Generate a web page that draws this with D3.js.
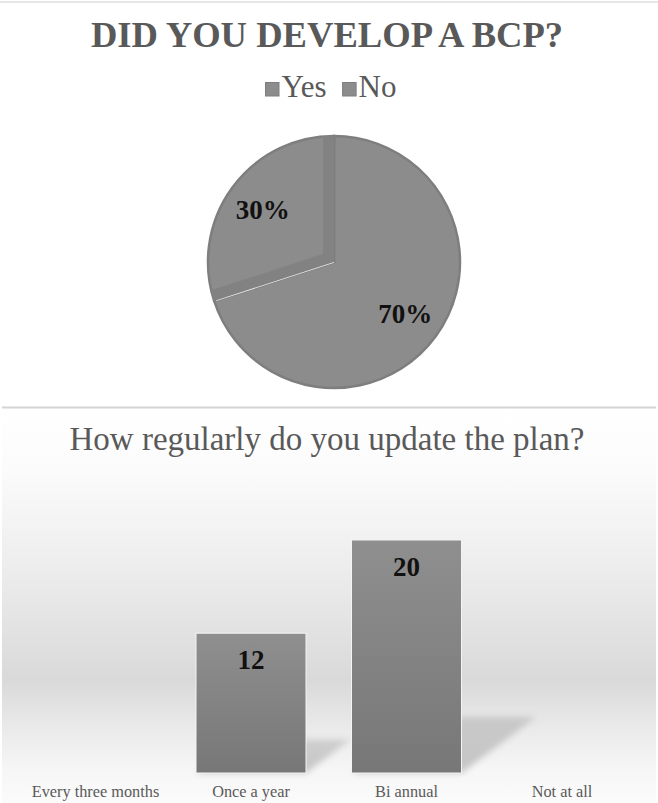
<!DOCTYPE html>
<html>
<head>
<meta charset="utf-8">
<script src="https://cdn.jsdelivr.net/npm/d3@7"></script>
<style>
  html, body { margin: 0; padding: 0; background: #ffffff; }
  svg { display: block; }
  svg text { font-family: "Liberation Serif", "Times New Roman", Times, "DejaVu Serif", serif; }
</style>
</head>
<body>
<svg id="chart" width="658" height="803"></svg>
<script>
// Survey results: business continuity plan (BCP)
const pieTitle = "DID YOU DEVELOP A BCP?";
const pieLabels = ["Yes", "No"];
const pieValues = [70, 30];

const barTitle = "How regularly do you update the plan?";
const barCategories = ["Every three months", "Once a year", "Bi annual", "Not at all"];
const barValues = [0, 12, 20, 0];

const W = 658, H = 803;
const titleGray = "#595959";
const sliceGray = "#8c8c8c";
const edgeGray = "#7e7e7e";

const svg = d3.select("#chart");
const defs = svg.append("defs");

// ---------- Top chart: pie ----------
svg.append("line")
  .attr("x1", 0).attr("x2", W).attr("y1", 2).attr("y2", 2)
  .attr("stroke", "#e6e6e6").attr("stroke-width", 2);

svg.append("text")
  .attr("x", 327).attr("y", 47)
  .attr("text-anchor", "middle")
  .attr("font-weight", "bold")
  .attr("font-size", 36.6).attr("fill", titleGray)
  .text(pieTitle);

// legend, centred as a group
const legend = svg.append("g");
let lx = 0;
pieLabels.forEach((lab, i) => {
  const g = legend.append("g").attr("transform", `translate(${lx},0)`);
  g.append("rect").attr("x", 0).attr("y", -14.5).attr("width", 13.5).attr("height", 13.5)
    .attr("fill", sliceGray).attr("stroke", edgeGray).attr("stroke-width", 1);
  const t = g.append("text").attr("x", 16).attr("y", 0)
    .attr("font-size", 31).attr("fill", titleGray)
    .text(lab);
  lx += 16 + t.node().getComputedTextLength() + 16;
});
const legendW = lx - 16;
legend.attr("transform", `translate(${331 - legendW / 2},97)`);

const cx = 334, cy = 262, R = 126;
const pie = d3.pie().sort(null).value(d => d)(pieValues);
const arc = d3.arc().innerRadius(0).outerRadius(R);
const labelArc = d3.arc().innerRadius(88).outerRadius(88);

const pieG = svg.append("g").attr("transform", `translate(${cx},${cy})`);

pie.forEach((d, i) => {
  const id = "slice-clip-" + i;
  defs.append("clipPath").attr("id", id).append("path").attr("d", arc(d))
    .attr("transform", `translate(${cx},${cy})`);
  pieG.append("path")
    .attr("d", arc(d))
    .attr("fill", sliceGray)
    .attr("stroke", edgeGray).attr("stroke-width", 2.5);
});

// bevelled radial edges of the smaller slice
const small = pie[1];
const edgeLines = [small.startAngle, small.endAngle].map(a => [
  [0, 0], [Math.sin(a) * R, -Math.cos(a) * R]
]);
const bevel = svg.append("g").attr("clip-path", "url(#slice-clip-1)")
  .append("g").attr("transform", `translate(${cx},${cy})`);
edgeLines.forEach(pts => {
  bevel.append("line")
    .attr("x1", pts[0][0]).attr("y1", pts[0][1])
    .attr("x2", pts[1][0]).attr("y2", pts[1][1])
    .attr("stroke", "#828282").attr("stroke-width", 22);
});
// light seam along the lower edge
const a0 = small.startAngle;
pieG.append("line")
  .attr("x1", 0).attr("y1", 0)
  .attr("x2", Math.sin(a0) * (R - 2)).attr("y2", -Math.cos(a0) * (R - 2))
  .attr("stroke", "#ececec").attr("stroke-width", 1.6);

pieG.selectAll("text.pct")
  .data(pie)
  .join("text")
  .attr("class", "pct")
  .attr("transform", d => `translate(${labelArc.centroid(d)})`)
  .attr("text-anchor", "middle").attr("dy", "0.33em")
  .attr("font-weight", "bold")
  .attr("font-size", 27).attr("fill", "#111111")
  .text(d => d3.format(".0%")(d.value / d3.sum(pieValues)));

// ---------- Bottom chart: bars ----------
const bg = defs.append("linearGradient").attr("id", "plotBg")
  .attr("gradientUnits", "userSpaceOnUse")
  .attr("x1", 0).attr("x2", 0).attr("y1", 409).attr("y2", 803);
[[409, "#ffffff"], [470, "#fbfbfb"], [560, "#eeeeee"], [620, "#e4e4e4"],
 [680, "#d9d9d9"], [725, "#e9e9e9"], [770, "#f6f6f6"], [803, "#fbfbfb"]]
  .forEach(([y, c]) => bg.append("stop")
    .attr("offset", ((y - 409) / (803 - 409) * 100) + "%").attr("stop-color", c));

svg.append("rect").attr("x", 2).attr("y", 409).attr("width", W - 4).attr("height", H - 409)
  .attr("fill", "url(#plotBg)");

svg.append("line")
  .attr("x1", 2).attr("x2", W - 2).attr("y1", 407.5).attr("y2", 407.5)
  .attr("stroke", "#d4d4d4").attr("stroke-width", 2);

svg.append("text")
  .attr("x", 327).attr("y", 450)
  .attr("text-anchor", "middle")
  .attr("font-size", 33).attr("fill", titleGray)
  .text(barTitle);

const x = d3.scaleBand().domain(barCategories)
  .range([17.75, 639.75]).paddingInner(0.2926).paddingOuter(0.1463);
const y = d3.scaleLinear().domain([0, 25]).range([773, 481.75]);

const barGrad = defs.append("linearGradient").attr("id", "barFill")
  .attr("x1", 0).attr("x2", 0).attr("y1", 0).attr("y2", 1);
barGrad.append("stop").attr("offset", "0%").attr("stop-color", "#8f8f8f");
barGrad.append("stop").attr("offset", "100%").attr("stop-color", "#777777");

const blur = defs.append("filter").attr("id", "softShadow")
  .attr("x", "-20%").attr("y", "-20%").attr("width", "140%").attr("height", "140%");
blur.append("feGaussianBlur").attr("stdDeviation", 3);

const shadowGrad = defs.append("linearGradient").attr("id", "shadowFill")
  .attr("x1", 0).attr("x2", 0).attr("y1", 0).attr("y2", 1);
shadowGrad.append("stop").attr("offset", "0%").attr("stop-color", "#000").attr("stop-opacity", 0.13);
shadowGrad.append("stop").attr("offset", "100%").attr("stop-color", "#000").attr("stop-opacity", 0.2);

const bars = barCategories.map((c, i) => ({ cat: c, v: barValues[i] })).filter(d => d.v > 0);

// cast shadows behind the bars
svg.append("g").selectAll("path")
  .data(bars)
  .join("path")
  .attr("filter", "url(#softShadow)")
  .attr("fill", "url(#shadowFill)")
  .attr("d", d => {
    const x0 = x(d.cat), x1 = x0 + x.bandwidth(), b = y(0);
    const h = y(0) - y(d.v);
    const dx = 0.32 * h, dy = 0.24 * h;
    return `M${x0},${b}L${x1},${b}L${x1 + dx},${b - dy}L${x0 + dx},${b - dy}Z`;
  });

svg.append("g").selectAll("rect")
  .data(bars)
  .join("rect")
  .attr("x", d => x(d.cat))
  .attr("y", d => y(d.v))
  .attr("width", x.bandwidth())
  .attr("height", d => y(0) - y(d.v))
  .attr("fill", "url(#barFill)")
  .attr("stroke", "#f4f4f4").attr("stroke-width", 1);

svg.append("g").selectAll("text")
  .data(bars)
  .join("text")
  .attr("x", d => x(d.cat) + x.bandwidth() / 2)
  .attr("y", d => y(d.v) + 36)
  .attr("text-anchor", "middle")
  .attr("font-weight", "bold")
  .attr("font-size", 27).attr("fill", "#111111")
  .text(d => d.v);

svg.append("g").selectAll("text")
  .data(barCategories)
  .join("text")
  .attr("x", d => x(d) + x.bandwidth() / 2)
  .attr("y", 797)
  .attr("text-anchor", "middle")
  .attr("font-size", 16.3).attr("fill", titleGray)
  .text(d => d);
</script>
</body>
</html>
